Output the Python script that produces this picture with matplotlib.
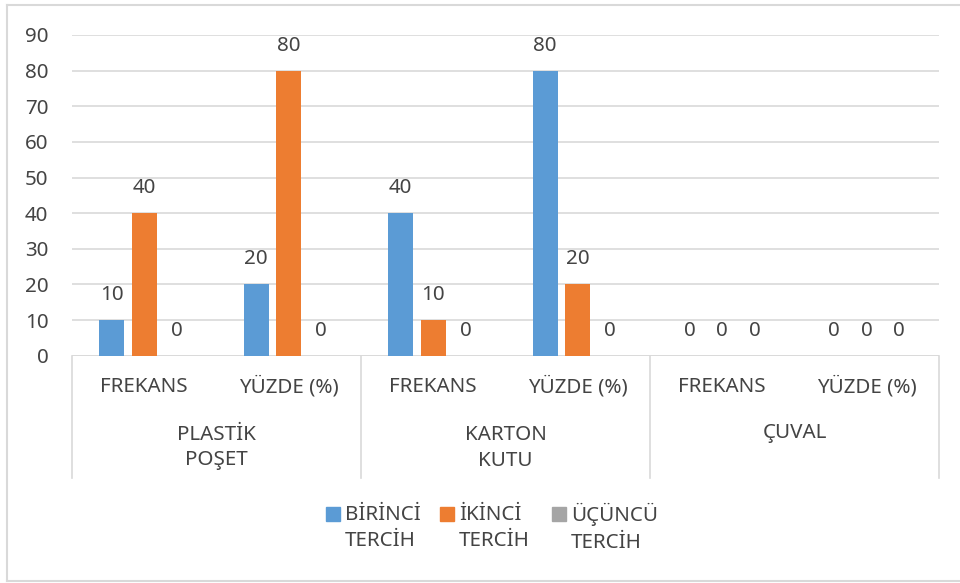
import matplotlib
matplotlib.use("Agg")
import matplotlib.pyplot as plt
from matplotlib.patches import Rectangle
from matplotlib.lines import Line2D
import numpy as np

plt.rcParams['font.family'] = ['Noto Sans', 'DejaVu Sans']

# Data
groups = ["PLASTİK\nPOŞET", "KARTON\nKUTU", "ÇUVAL"]
subcats = ["FREKANS", "YÜZDE (%)"]
series_names = ["BİRİNCİ\nTERCİH", "İKİNCİ\nTERCİH", "ÜÇÜNCÜ\nTERCİH"]
birinci = [10, 20, 40, 80, 0, 0]
ikinci = [40, 80, 10, 20, 0, 0]
ucuncu = [0, 0, 0, 0, 0, 0]
yticks = list(range(0, 91, 10))

colors = ["#5B9BD5", "#ED7D31", "#A5A5A5"]
text_color = "#444444"
grid_color = "#D9D9D9"
fs = 14.8

W, H = 960, 583
fig = plt.figure(figsize=(W / 100, H / 100), dpi=100)

# plot area in pixel coordinates
left_px, right_px, top_px, bottom_px = 72, 939, 35, 355.7
ax = fig.add_axes([left_px / W, 1 - bottom_px / H,
                   (right_px - left_px) / W, (bottom_px - top_px) / H])

n = len(birinci)
x = np.arange(n)
bw = 0.173
step = 0.225
all_series = [birinci, ikinci, ucuncu]
for i, (vals, c) in enumerate(zip(all_series, colors)):
    xpos = x + (i - 1) * step
    ax.bar(xpos, vals, width=bw, color=c, zorder=3)
    for xp, v in zip(xpos, vals):
        ax.annotate(f"{v}", (xp, v), xytext=(0, 18), textcoords="offset points",
                    ha="center", va="center", fontsize=fs, color=text_color)

ax.set_xlim(-0.5, n - 0.5)
ax.set_ylim(0, 90)
ax.set_yticks(yticks)
ax.yaxis.grid(True, color=grid_color, lw=1.2, zorder=0)
ax.set_axisbelow(True)
for s in ax.spines.values():
    s.set_visible(False)
ax.tick_params(axis="y", length=0, pad=17, labelsize=fs, labelcolor=text_color)
ax.tick_params(axis="x", length=0, labelbottom=False)
ax.axhline(0, color=grid_color, lw=1.2, zorder=1)

# multi-level category axis
ax_h = bottom_px - top_px
def yfrac(py):
    return (bottom_px - py) / ax_h

trans = ax.get_xaxis_transform()
for xb in [-0.5, 1.5, 3.5, 5.5]:
    ax.add_line(Line2D([xb, xb], [0, yfrac(478)], transform=trans,
                       color=grid_color, lw=1.2, clip_on=False))
for j in range(n):
    ax.text(j, yfrac(387), subcats[j % 2], transform=trans, ha="center",
            va="center", fontsize=fs, color=text_color)
for g, name in enumerate(groups):
    lines = name.count("\n") + 1
    cy = 433 if lines == 1 else 447.5
    ax.text(2 * g + 0.5, yfrac(cy), name, transform=trans, ha="center",
            va="center", fontsize=fs, color=text_color, linespacing=1.4,
            multialignment="center")

# legend
leg_x = [326, 440, 552]
for lx, name, c in zip(leg_x, series_names, colors):
    fig.patches.append(Rectangle((lx / W, 1 - 521 / H), 14 / W, 14 / H,
                                 transform=fig.transFigure, color=c))
    fig.text((lx + 19) / W, 1 - 528 / H, name, ha="left", va="center",
             fontsize=fs, color=text_color, linespacing=1.45)

# outer chart border
for xs, ys in [([7, 7], [5, 581]), ([7, 960], [5, 5]), ([7, 960], [581, 581])]:
    fig.add_artist(Line2D([v / W for v in xs], [1 - v / H for v in ys],
                          transform=fig.transFigure, color=grid_color, lw=1.5))

fig.savefig("out.png", dpi=100, facecolor="white")
